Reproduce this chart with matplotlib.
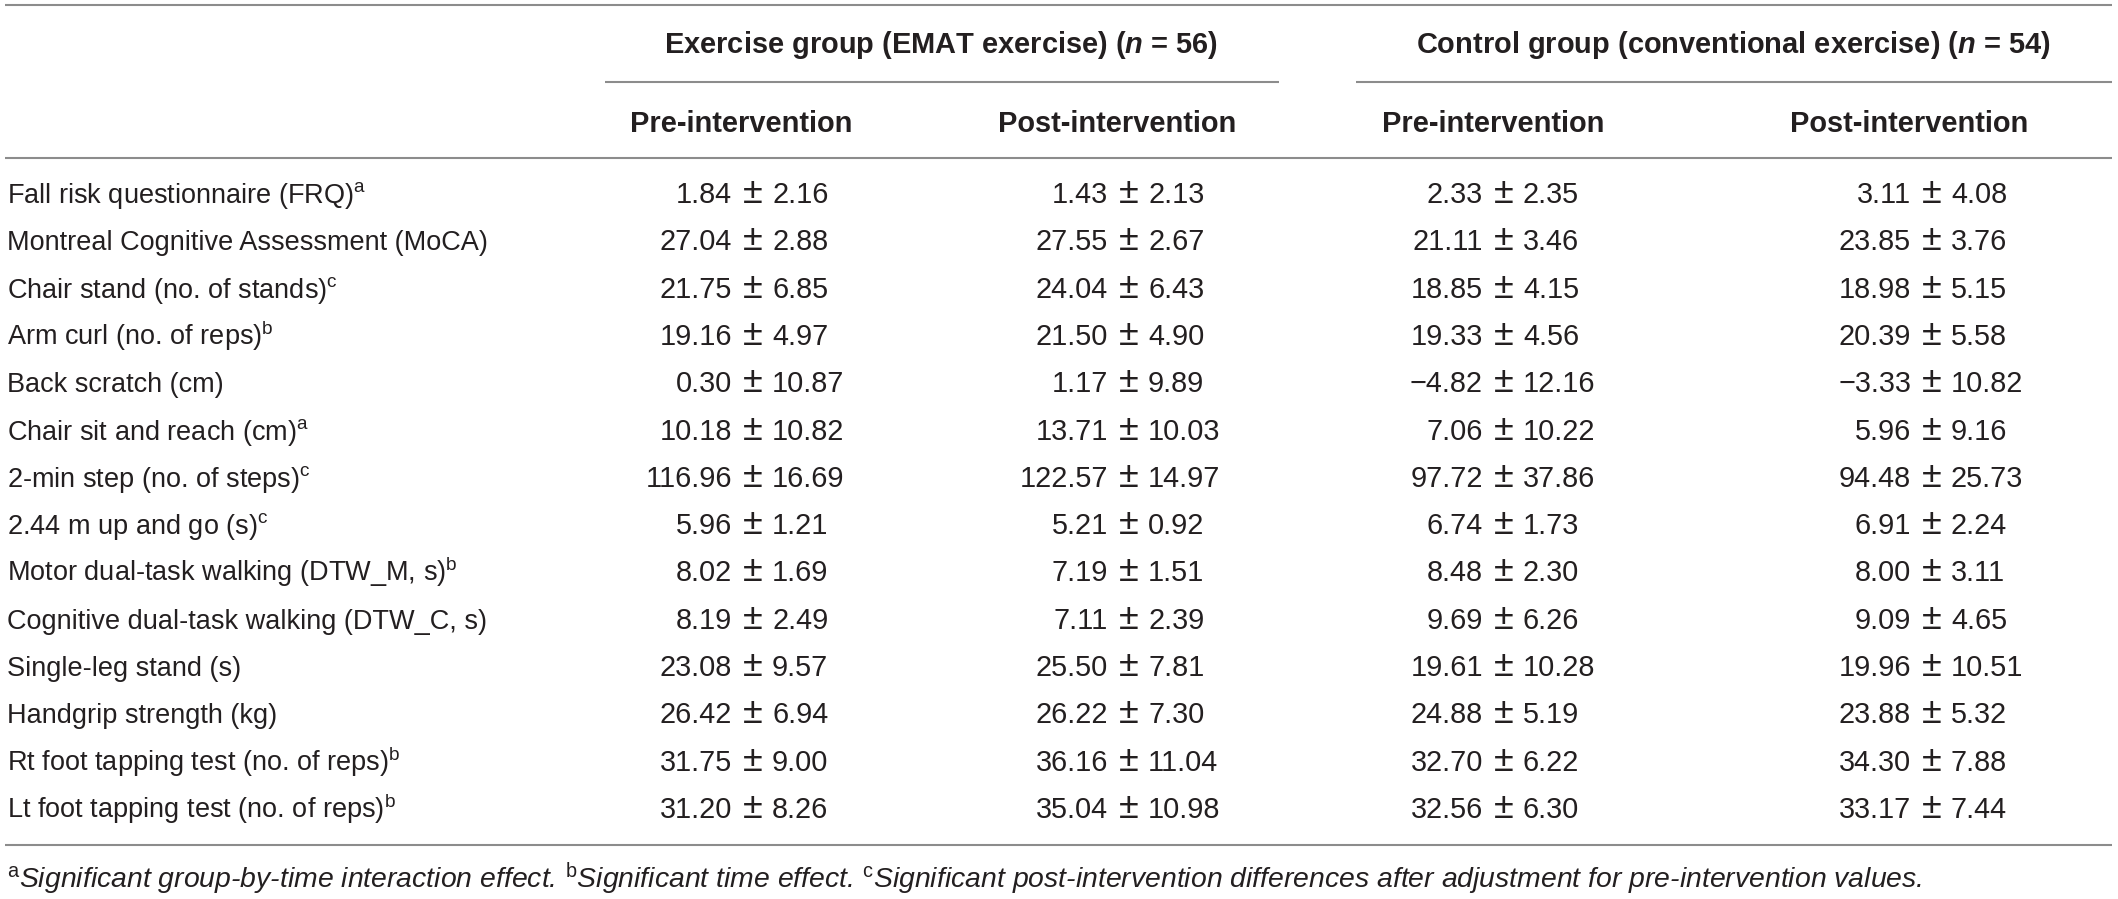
import matplotlib
matplotlib.use("Agg")
import matplotlib.pyplot as plt

plt.rcParams['font.family'] = ['Liberation Sans', 'DejaVu Sans']
plt.rcParams['mathtext.fontset'] = 'custom'
plt.rcParams['mathtext.rm'] = 'Liberation Sans'
plt.rcParams['mathtext.it'] = 'Liberation Sans:italic:bold'
plt.rcParams['mathtext.bf'] = 'Liberation Sans:bold'

# ---------------- data ----------------
labels = [
    "Fall risk questionnaire (FRQ)",
    "Montreal Cognitive Assessment (MoCA)",
    "Chair stand (no. of stands)",
    "Arm curl (no. of reps)",
    "Back scratch (cm)",
    "Chair sit and reach (cm)",
    "2-min step (no. of steps)",
    "2.44 m up and go (s)",
    "Motor dual-task walking (DTW_M, s)",
    "Cognitive dual-task walking (DTW_C, s)",
    "Single-leg stand (s)",
    "Handgrip strength (kg)",
    "Rt foot tapping test (no. of reps)",
    "Lt foot tapping test (no. of reps)",
]
label_sups = ["a", "", "c", "b", "", "a", "c", "c", "b", "", "", "", "b", "b"]

ex_pre_mean = [1.84, 27.04, 21.75, 19.16, 0.30, 10.18, 116.96, 5.96, 8.02, 8.19, 23.08, 26.42, 31.75, 31.20]
ex_pre_sd = [2.16, 2.88, 6.85, 4.97, 10.87, 10.82, 16.69, 1.21, 1.69, 2.49, 9.57, 6.94, 9.00, 8.26]
ex_post_mean = [1.43, 27.55, 24.04, 21.50, 1.17, 13.71, 122.57, 5.21, 7.19, 7.11, 25.50, 26.22, 36.16, 35.04]
ex_post_sd = [2.13, 2.67, 6.43, 4.90, 9.89, 10.03, 14.97, 0.92, 1.51, 2.39, 7.81, 7.30, 11.04, 10.98]
ct_pre_mean = [2.33, 21.11, 18.85, 19.33, -4.82, 7.06, 97.72, 6.74, 8.48, 9.69, 19.61, 24.88, 32.70, 32.56]
ct_pre_sd = [2.35, 3.46, 4.15, 4.56, 12.16, 10.22, 37.86, 1.73, 2.30, 6.26, 10.28, 5.19, 6.22, 6.30]
ct_post_mean = [3.11, 23.85, 18.98, 20.39, -3.33, 5.96, 94.48, 6.91, 8.00, 9.09, 19.96, 23.88, 34.30, 33.17]
ct_post_sd = [4.08, 3.76, 5.15, 5.58, 10.82, 9.16, 25.73, 2.24, 3.11, 4.65, 10.51, 5.32, 7.88, 7.44]

group_headers = ["Exercise group (EMAT exercise) ($\\mathit{n}$ = 56)",
                 "Control group (conventional exercise) ($\\mathit{n}$ = 54)"]
col_headers = ["Pre-intervention", "Post-intervention", "Pre-intervention", "Post-intervention"]
footnote = ("$^{\\mathrm{a}}$Significant group-by-time interaction effect. "
            "$^{\\mathrm{b}}$Significant time effect. "
            "$^{\\mathrm{c}}$Significant post-intervention differences after "
            "adjustment for pre-intervention values.")

# ---------------- layout ----------------
W, H = 2118, 899
fig = plt.figure(figsize=(W / 100, H / 100), dpi=100)
ax = fig.add_axes([0, 0, 1, 1])
ax.set_xlim(0, W)
ax.set_ylim(H, 0)
ax.axis('off')

TXT = '#231f20'
LINE = '#8c8c8c'
LW = 1.5

renderer = fig.canvas.get_renderer()


def fit_size(s, target_px, **kw):
    t = ax.text(0, 0, s, fontsize=20, **kw)
    w = t.get_window_extent(renderer=renderer).width
    t.remove()
    return 20 * target_px / w


fs_label = fit_size("Fall risk questionnaire (FRQ)", 346)
fs_val = fit_size("27.04", 72)
fs_head = fit_size("Pre-intervention", 222, fontweight='bold')
fs_foot = fit_size(footnote, 1913, style='italic')

# rules
x0, x1 = 5, 2112
ax.plot([x0, x1], [5, 5], color=LINE, lw=LW, solid_capstyle='butt')
ax.plot([605, 1279], [82, 82], color=LINE, lw=LW, solid_capstyle='butt')
ax.plot([1356, x1], [82, 82], color=LINE, lw=LW, solid_capstyle='butt')
ax.plot([x0, x1], [158, 158], color=LINE, lw=LW, solid_capstyle='butt')
ax.plot([x0, x1], [845, 845], color=LINE, lw=LW, solid_capstyle='butt')

# headers
for cx, s in zip([941, 1733], group_headers):
    ax.text(cx, 53, s, ha='center', va='baseline', fontsize=fs_head,
            fontweight='bold', color=TXT)
for cx, s in zip([741, 1117, 1493, 1909], col_headers):
    ax.text(cx, 132, s, ha='center', va='baseline', fontsize=fs_head,
            fontweight='bold', color=TXT)

# body
row0, dy = 193, 47.3
pm_centers = [753, 1129, 1504, 1932]
cols = [(ex_pre_mean, ex_pre_sd), (ex_post_mean, ex_post_sd),
        (ct_pre_mean, ct_pre_sd), (ct_post_mean, ct_post_sd)]


def fmt(v):
    return f"{v:.2f}".replace("-", "\u2212")


for i, lab in enumerate(labels):
    yb = row0 + i * dy + 10
    s = lab + (f"$^{{\\mathrm{{{label_sups[i]}}}}}$" if label_sups[i] else "")
    ax.text(7, yb, s, ha='left', va='baseline', fontsize=fs_label, color=TXT)
    for c, (m, sd) in zip(pm_centers, cols):
        ax.text(c - 21, yb, fmt(m[i]), ha='right', va='baseline', fontsize=fs_val, color=TXT)
        ax.text(c, yb, "\u00b1", ha='center', va='baseline', fontsize=fs_val * 1.25, color=TXT)
        ax.text(c + 19, yb, fmt(sd[i]), ha='left', va='baseline', fontsize=fs_val, color=TXT)

# footnote
ax.text(7, 888, footnote, ha='left', va='baseline', fontsize=fs_foot,
        style='italic', color=TXT)

fig.savefig("out.png", dpi=100)
